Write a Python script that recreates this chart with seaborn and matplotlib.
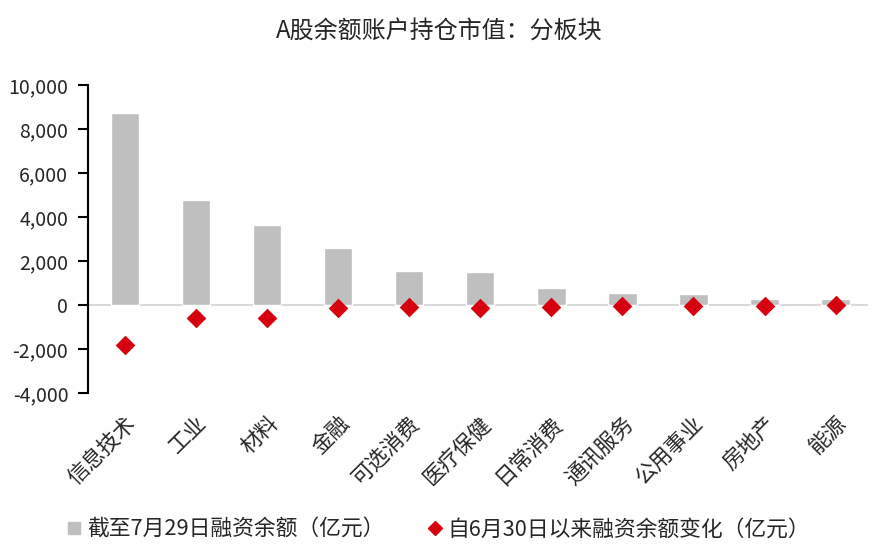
import numpy as np
import matplotlib.pyplot as plt
import pandas as pd
import seaborn as sns
from matplotlib.lines import Line2D

sectors = ['信息技术', '工业', '材料', '金融', '可选消费', '医疗保健',
           '日常消费', '通讯服务', '公用事业', '房地产', '能源']
balance = [8740, 4790, 3630, 2580, 1550, 1480, 750, 530, 510, 260, 250]
change = [-1810, -590, -590, -150, -80, -150, -110, -70, -40, -30, -20]

bar_label = '截至7月29日融资余额（亿元）'
dot_label = '自6月30日以来融资余额变化（亿元）'

df = pd.DataFrame({'sector': sectors, 'balance': balance, 'change': change})

sns.set_style('white')
plt.rcParams['font.family'] = ['Noto Sans CJK SC', 'DejaVu Sans']
plt.rcParams['axes.unicode_minus'] = False

fig = plt.figure(figsize=(8.78, 5.48), dpi=100)
ax = fig.add_axes([0.1, 0.283, 0.889, 0.562])

ax.axhline(0, color='#D9D9D9', lw=1.5, zorder=1)
sns.barplot(data=df, x='sector', y='balance', color='#BFBFBF', width=0.4,
            saturation=1, ax=ax, zorder=2)
sns.stripplot(data=df, x='sector', y='change', color='#D7000F', marker='D',
              size=10, jitter=False, ax=ax, zorder=3, linewidth=0)

ax.set_ylim(-4000, 10000)
ax.set_yticks(np.arange(-4000, 10001, 2000))
ax.set_yticklabels([f'{v:,}' for v in range(-4000, 10001, 2000)])
ax.set_xlim(-0.52, 10.46)
ax.set_xlabel('')
ax.set_ylabel('')

for s in ['top', 'right', 'bottom']:
    ax.spines[s].set_visible(False)
ax.spines['left'].set_color('black')
ax.spines['left'].set_linewidth(1.5)
ax.tick_params(axis='y', direction='out', length=7, width=1.5, color='black',
               labelsize=14, pad=7, left=True)
ax.tick_params(axis='x', length=0, labelsize=15.5, pad=14)
plt.setp(ax.get_xticklabels(), rotation=45, ha='right', rotation_mode='anchor')

fig.suptitle('A股余额账户持仓市值：分板块', fontsize=17.3, y=0.965)

handles = [Line2D([], [], marker='s', color='#BFBFBF', lw=0, markersize=9,
                  label=bar_label),
           Line2D([], [], marker='D', color='#D7000F', lw=0, markersize=7,
                  label=dot_label)]
fig.legend(handles=handles, loc='center', bbox_to_anchor=(0.5, 0.033), ncol=2,
           frameon=False, fontsize=15.7, handlelength=0.6, handletextpad=0.3,
           columnspacing=2.0)

fig.savefig('out.png', dpi=100)
